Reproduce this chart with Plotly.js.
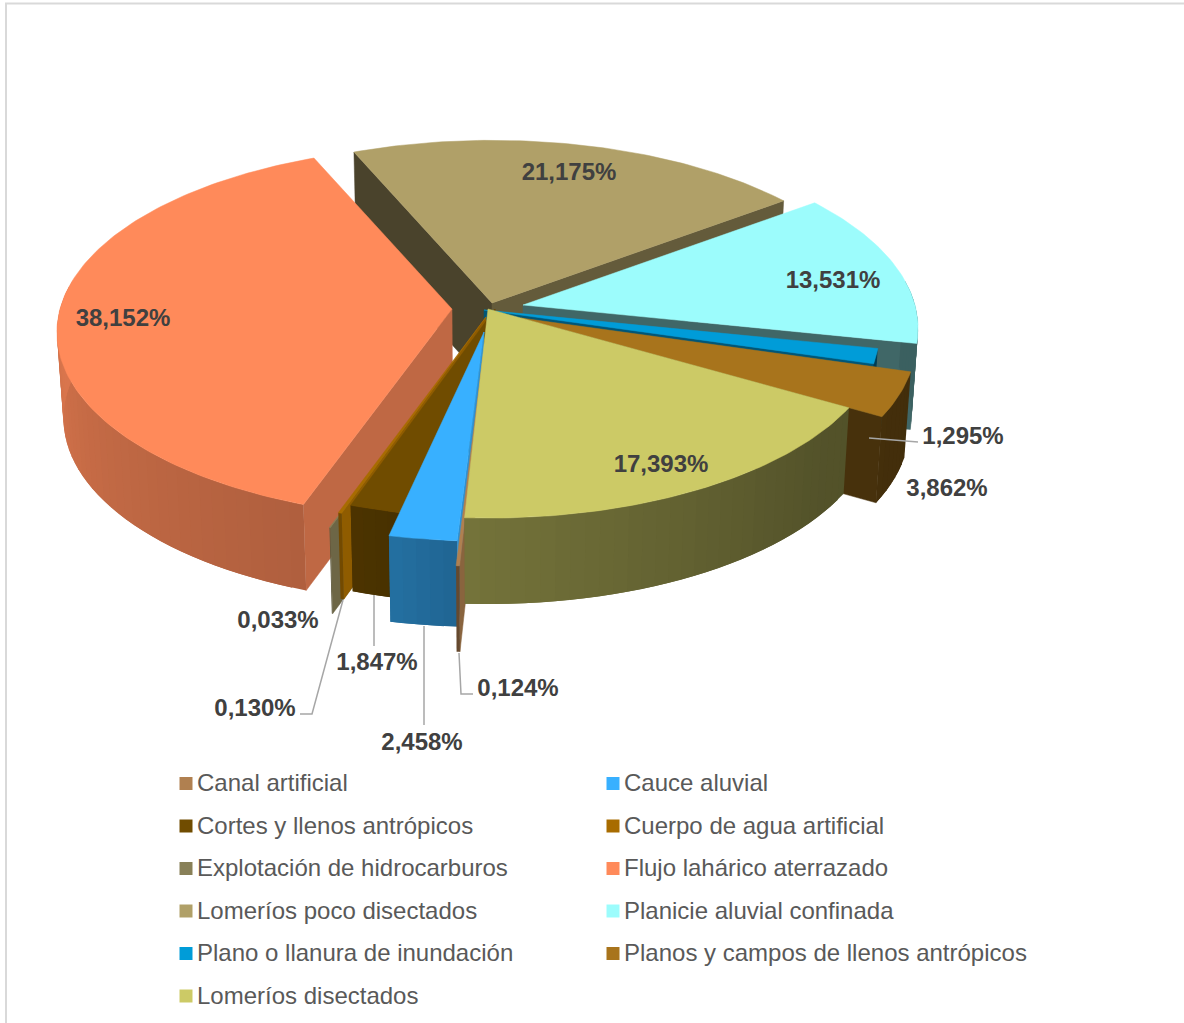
<!DOCTYPE html>
<html>
<head>
<meta charset="utf-8">
<script src="https://cdn.plot.ly/plotly-3.0.1.min.js"></script>
<style>html,body{margin:0;padding:0;background:#fff;overflow:hidden}#chart{width:1184px;height:1023px}</style>
</head>
<body>
<div id="chart"></div>
<script>
// ---- data ----
const categories = ["Canal artificial","Cauce aluvial","Cortes y llenos antrópicos","Cuerpo de agua artificial","Explotación de hidrocarburos","Flujo lahárico aterrazado","Lomeríos poco disectados","Planicie aluvial confinada","Plano o llanura de inundación","Planos y campos de llenos antrópicos","Lomeríos disectados"];
const percents = [0.124,2.458,1.847,0.130,0.033,38.152,21.175,13.531,1.295,3.862,17.393];
const colors = ["#b08050","#38b0ff","#704c00","#a86c00","#888058","#ff8a5a","#b0a068","#9cfcfc","#009cd8","#a8741c","#ccca66"];

// ---- explosion of each slice (position of its tip on the page) ----
const tipX = [483,484,495,486,478,452,492,523,484,521,488];
const tipY = [357,332,309,317,332,309,303,305,310,318,309];
// ---- shading of the two straight side walls ----
const startShade = [0.78,0.82,0.8,0.85,0.8,0.75,0.42,0.5,0.5,0.5,0.5];
const endShade = [0.6,0.6,0.6,0.6,0.6,0.6,0.57,0.41,0.55,0.42,0.42];
// ---- arc wall shading vs. bearing in degrees ----
const shadeAngle = [90,130,160,183,200,240,270,300,360];
const shadeValue = [0.38,0.41,0.5,0.57,0.69,0.77,0.85,0.85,0.85];
// ---- drawing order, back to front ----
const drawOrder = [6,5,7,8,9,4,3,2,1,0,10];
// ---- label placement ----
const labelX = [518,422,377,255,278,123,569,833,963,947,661];
const labelY = [690,744,664,710,622,320,174,282,438,490,466];
const leaderX = [[459,461,473],[424,424],[374,374],[300,312,343],[],[],[],[],[869,918],[],[]];
const leaderY = [[653,694,694],[626,725],[595,646],[714,714,600],[],[],[],[],[438,442],[],[]];

// ---- projection constants ----
const A = 392, B = 183, K = 0.125, H = 86, VX = 488, BOTTOM = 0.985;
const START_ANGLE = 183;
const STRIP_DEG = 2;

function rad(d){return d*Math.PI/180;}
function project(i,deg,r,bottom){
  const u = r*Math.sin(rad(deg)), v = r*Math.cos(rad(deg)), d = 1+K*v;
  let x = tipX[i]+A*u/d, y = tipY[i]-B*v/d;
  if(bottom){ x = VX+(x-VX)*BOTTOM; y += H; }
  return [x,y];
}
function shadeAt(deg){
  const a = ((deg%360)+360)%360;
  for(let j=1;j<shadeAngle.length;j++){
    if(a<=shadeAngle[j]){
      const t = Math.max(0,(a-shadeAngle[j-1])/(shadeAngle[j]-shadeAngle[j-1]));
      return shadeValue[j-1]+t*(shadeValue[j]-shadeValue[j-1]);
    }
  }
  return shadeValue[shadeValue.length-1];
}
function shade(hex,f){
  const n = parseInt(hex.slice(1),16);
  const c = [n>>16,(n>>8)&255,n&255].map(v=>Math.round(v*f));
  return `rgb(${c[0]},${c[1]},${c[2]})`;
}
function poly(pts,color,name,lineWidth){
  const xs = pts.map(p=>p[0]).concat(pts[0][0]);
  const ys = pts.map(p=>p[1]).concat(pts[0][1]);
  return {type:"scatter",mode:"lines",x:xs,y:ys,fill:"toself",fillcolor:color,
          line:{color:color,width:lineWidth},hoverinfo:name?"name":"skip",name:name||"",showlegend:false};
}

// slice bounds from the percentages
const startDeg = [], endDeg = [];
percents.reduce((acc,p,i)=>{startDeg[i]=acc;endDeg[i]=acc+p*3.6;return endDeg[i];},START_ANGLE);

const traces = [];
drawOrder.forEach(i=>{
  const s = startDeg[i], e = endDeg[i];
  // straight side walls: only the one that faces the viewer
  if(Math.sin(rad(s))<0){
    traces.push(poly([project(i,s,0,false),project(i,s,1,false),project(i,s,1,true),project(i,s,0,true)],shade(colors[i],startShade[i]),null,0.5));
  }
  if(Math.sin(rad(e))>0){
    traces.push(poly([project(i,e,0,false),project(i,e,1,false),project(i,e,1,true),project(i,e,0,true)],shade(colors[i],endShade[i]),null,0.5));
  }
  // curved outer wall: front-facing part only, in overlapping strips
  const strips = Math.max(1,Math.ceil((e-s)/STRIP_DEG));
  for(let k=0;k<strips;k++){
    const a = s+(e-s)*k/strips, b = s+(e-s)*(k+1)/strips, bNext = Math.min(e,b+(e-s)/strips);
    const mid = (a+b)/2;
    if(Math.cos(rad(mid))>0.12){continue;}
    traces.push(poly([project(i,a,1,false),project(i,bNext,1,false),project(i,bNext,1,true),project(i,a,1,true)],shade(colors[i],shadeAt(mid)),null,0));
  }
  // top face
  const top = [project(i,s,0,false)];
  const steps = Math.max(1,Math.ceil(e-s));
  for(let k=0;k<=steps;k++){ top.push(project(i,s+(e-s)*k/steps,1,false)); }
  traces.push(poly(top,colors[i],categories[i],0.5));
});

// leader lines
categories.forEach((c,i)=>{
  if(leaderX[i].length){
    traces.push({type:"scatter",mode:"lines",x:leaderX[i],y:leaderY[i],line:{color:"#a6a6a6",width:1.5},hoverinfo:"skip",showlegend:false});
  }
});
// percentage labels
traces.push({type:"scatter",mode:"text",x:labelX,y:labelY,
  text:percents.map(p=>p.toFixed(3).replace(".",",")+"%"),
  textposition:"middle center",
  textfont:{family:"Liberation Sans, Arial, sans-serif",size:24,color:"#404040",weight:700},
  hoverinfo:"skip",showlegend:false});

// legend: two columns, filled row by row
const legendX0 = 186, legendDX = 427, legendY0 = 783.5, legendDY = 42.5, legendTextGap = 11, legendTextDrop = 1.5;
const legendX = categories.map((c,i)=>legendX0+(i%2)*legendDX);
const legendY = categories.map((c,i)=>legendY0+Math.floor(i/2)*legendDY);
traces.push({type:"scatter",mode:"markers",x:legendX,y:legendY,
  marker:{symbol:"square",size:13,color:colors,line:{width:0}},hoverinfo:"skip",showlegend:false});
traces.push({type:"scatter",mode:"text",x:legendX.map(v=>v+legendTextGap),y:legendY.map(v=>v+legendTextDrop),text:categories,
  textposition:"middle right",
  textfont:{family:"Liberation Sans, Arial, sans-serif",size:24,color:"#595959"},
  hoverinfo:"skip",showlegend:false});

const layout = {
  width:1184,height:1023,margin:{l:0,r:0,t:0,b:0},
  paper_bgcolor:"#ffffff",plot_bgcolor:"#ffffff",showlegend:false,
  xaxis:{range:[0,1184],visible:false,fixedrange:true},
  yaxis:{range:[1023,0],visible:false,fixedrange:true},
  shapes:[{type:"rect",xref:"x",yref:"y",x0:6,y0:3.5,x1:1200,y1:1040,line:{color:"#d9d9d9",width:2},fillcolor:"rgba(0,0,0,0)",layer:"below"}]
};
Plotly.newPlot("chart",traces,layout,{displayModeBar:false,staticPlot:true});
</script>
</body>
</html>
